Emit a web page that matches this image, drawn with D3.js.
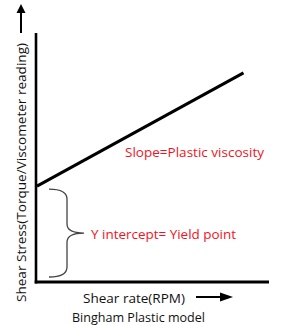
<!DOCTYPE html>
<html><head><meta charset="utf-8">
<script src="https://cdn.jsdelivr.net/npm/d3@7"></script>
<style>body{margin:0;background:#fff}svg{display:block}text{font-family:"Open Sans","Noto Sans",sans-serif}</style>
</head><body><svg id="c" width="286" height="325"></svg>
<script>
// data (arbitrary units)
const shearRate = [0, 89];          // RPM
const shearStress = [38.5, 84];     // viscometer reading
const yieldPoint = 38.5;
const braceRange = [37.3, 2];
const labels = {
  y: "Shear Stress(Torque/Viscometer reading)",
  x: "Shear rate(RPM)",
  title: "Bingham Plastic model",
  slope: "Slope=Plastic viscosity",
  intercept: "Y intercept= Yield point"
};

const svg = d3.select("#c");
const x = d3.scaleLinear().domain([0, 100]).range([37, 269]);
const y = d3.scaleLinear().domain([0, 100]).range([282, 33]);

// axes
svg.append("line").attr("x1", x(0)-1).attr("x2", x(0)-1).attr("y1", y(100)).attr("y2", y(0)+1.5)
  .attr("stroke", "#000").attr("stroke-width", 2.6);
svg.append("line").attr("x1", x(0)-2.3).attr("x2", x(100)).attr("y1", y(0)).attr("y2", y(0))
  .attr("stroke", "#000").attr("stroke-width", 3);

// data line
const pts = shearRate.map((r, i) => [x(r), y(shearStress[i])]);
svg.append("path").attr("d", d3.line()(pts)).attr("stroke", "#000").attr("stroke-width", 3)
  .attr("fill", "none");

// brace
const bt = y(braceRange[0]), bb = y(braceRange[1]), bm = (bt + bb) / 2;
const bl = 49, bv = 67, tip = 84;
const bp = d3.path();
bp.moveTo(bl, bt); bp.quadraticCurveTo(bv, bt, bv, bt + 10);
bp.lineTo(bv, bm - 9); bp.quadraticCurveTo(bv, bm, tip, bm);
bp.quadraticCurveTo(bv, bm, bv, bm + 9); bp.lineTo(bv, bb - 10);
bp.quadraticCurveTo(bv, bb, bl, bb);
svg.append("path").attr("d", bp.toString()).attr("fill", "none").attr("stroke", "#444").attr("stroke-width", 1.3);

// arrows
svg.append("line").attr("x1", 21).attr("x2", 21).attr("y1", 33).attr("y2", 11).attr("stroke", "#000").attr("stroke-width", 2);
svg.append("path").attr("d", "M21,4 L25.5,13 L16.5,13 Z").attr("fill", "#000");
svg.append("line").attr("x1", 196).attr("x2", 222).attr("y1", 297).attr("y2", 297).attr("stroke", "#000").attr("stroke-width", 2);
svg.append("path").attr("d", "M233,297 L220,292.5 L220,301.5 Z").attr("fill", "#000");

function fit(t, w) { t.attr("textLength", w).attr("lengthAdjust", "spacingAndGlyphs"); return t; }

fit(svg.append("text").attr("transform", "translate(26,302) rotate(-90)").attr("font-size", 13.5)
  .attr("fill", "#111").text(labels.y), 259);
fit(svg.append("text").attr("x", 83).attr("y", 303).attr("font-size", 13.5).attr("fill", "#111").text(labels.x), 102);
fit(svg.append("text").attr("x", 72).attr("y", 322).attr("font-size", 13.5).attr("fill", "#111").text(labels.title), 133);
fit(svg.append("text").attr("x", 125).attr("y", 157).attr("font-size", 13.5).attr("fill", "#f0141e").text(labels.slope), 139);
fit(svg.append("text").attr("x", 91).attr("y", 239).attr("font-size", 13.5).attr("fill", "#f0141e").text(labels.intercept), 145);
</script></body></html>
